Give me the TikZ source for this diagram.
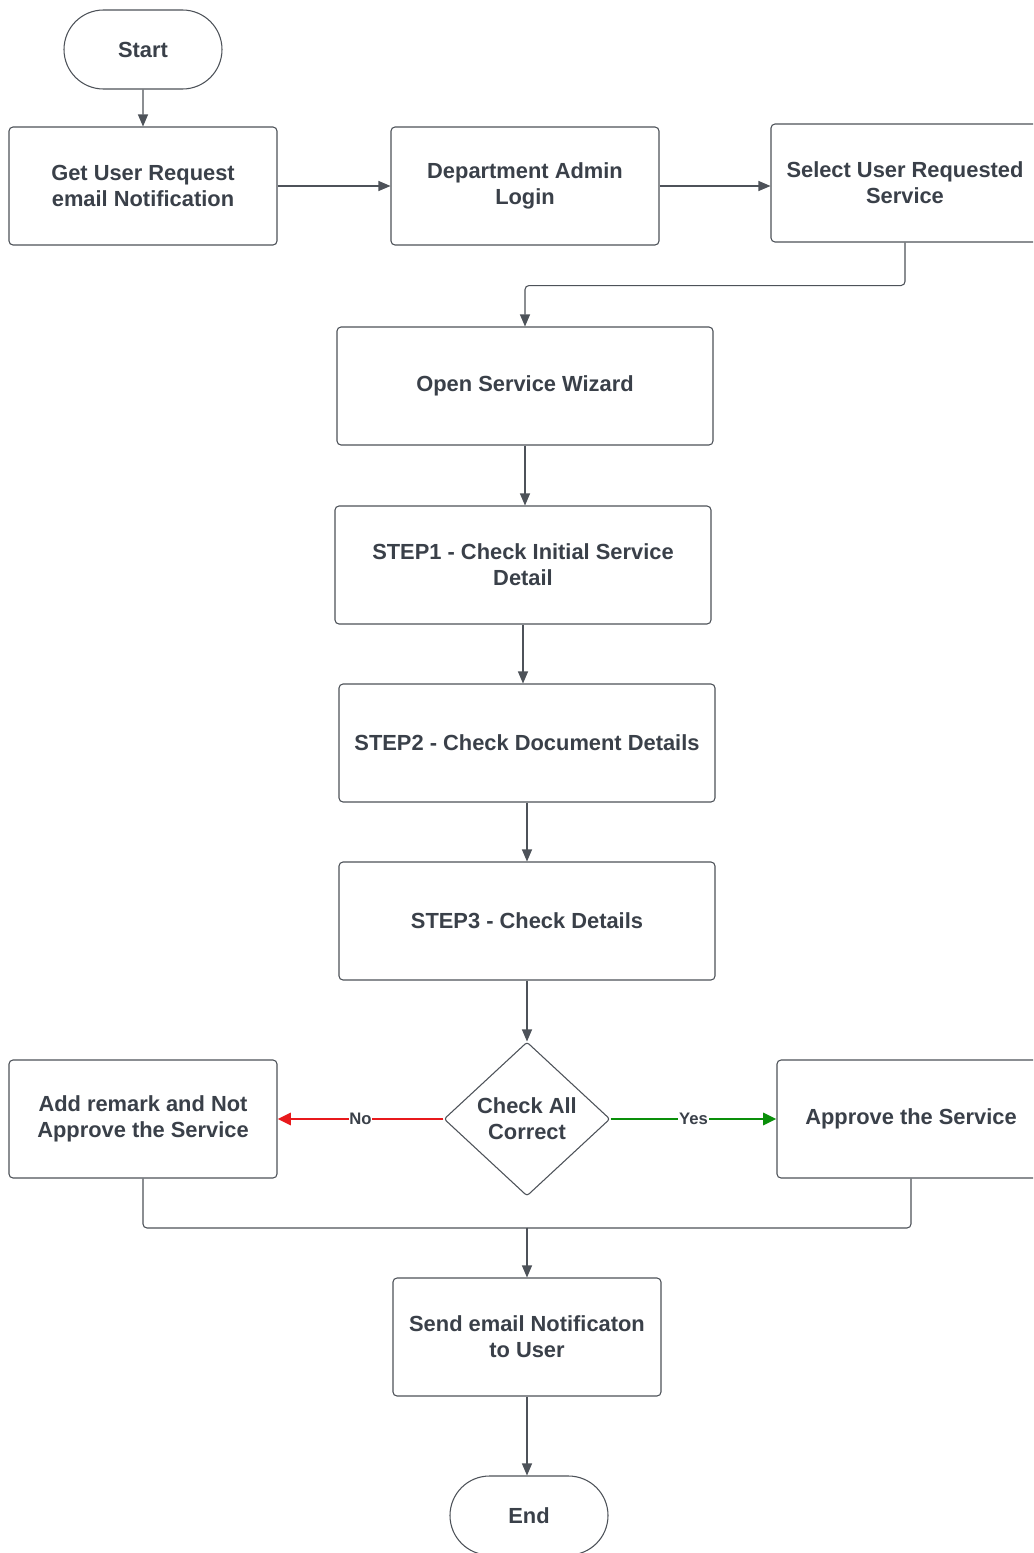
\documentclass[tikz,border=0pt]{standalone}
\usepackage{fontspec}
\setmainfont{Liberation Sans}
\usetikzlibrary{arrows.meta,shapes.geometric,shapes.misc}

\definecolor{edge}{HTML}{4D5259}
\definecolor{ink}{HTML}{3A4049}
\definecolor{nored}{HTML}{E8191C}
\definecolor{yesgreen}{HTML}{0A8F0A}

\tikzset{
  base/.style={draw=edge, line width=0.8pt, fill=white, text=ink, align=center,
    inner sep=0pt, font=\fontsize{16.4}{19.5}\selectfont\bfseries},
  procbox/.style={base, rectangle, rounded corners=3pt,
    minimum width=201pt, minimum height=88.5pt},
  widebox/.style={procbox, minimum width=282pt},
  terminal/.style={base, rounded rectangle, minimum width=118.5pt, minimum height=59.25pt},
  decision/.style={base, diamond, aspect=1.08, rounded corners=2pt,
    minimum width=124.5pt, minimum height=115.5pt},
  link/.style={draw=edge, line width=0.8pt, rounded corners=3pt},
  arr/.style={link, -{Triangle[length=9pt,width=7.5pt]}},
  branch/.style={line width=2.2pt, -{Triangle[length=10pt,width=9pt]}},
  tag/.style={fill=white, text=ink, inner sep=0.5pt, font=\fontsize{12.5}{14}\selectfont\bfseries}
}

\begin{document}
\begin{tikzpicture}[x=0.75pt,y=-0.75pt]
\clip (0,0) rectangle (1033,1553);
\fill[white] (0,0) rectangle (1033,1553);

% top row
\node[terminal] (start) at (143,49.5) {Start};
\node[procbox] (get)  at (143,186) {Get User Request\\email Notification};
\node[procbox] (dept) at (525,186) {Department Admin\\Login};
\node[procbox] (sel)  at (905,183) {Select User Requested\\Service};

% wizard steps
\node[widebox] (wiz) at (525,386) {Open Service Wizard};
\node[widebox] (s1)  at (523,565) {STEP1 - Check Initial Service\\Detail};
\node[widebox] (s2)  at (527,743) {STEP2 - Check Document Details};
\node[widebox] (s3)  at (527,921) {STEP3 - Check Details};

% decision and outcomes
\node[decision] (chk) at (527,1119) {Check All\\Correct};
\node[procbox] (rem)  at (143,1119) {Add remark and Not\\Approve the Service};
\node[procbox] (appr) at (911,1119) {Approve the Service};

% notification and end
\node[procbox] (send) at (527,1337) {Send email Notificaton\\to User};
\node[terminal] (fin) at (529,1515.5) {End};

\coordinate (join) at (527,1228);

% connectors
\draw[arr] (start) -- (get);
\draw[arr] (get) -- (dept);
\draw[arr] (dept.east) -- (dept.east -| sel.west);
\draw[arr] (sel.south) -- ++(0,43) -| (wiz.north);
\draw[arr] (wiz.south) -- (wiz.south |- s1.north);
\draw[arr] (s1.south) -- (s1.south |- s2.north);
\draw[arr] (s2.south) -- (s2.south |- s3.north);
\draw[arr] (s3.south) -- (s3.south |- chk.north);

\draw[branch, draw=nored, fill=nored] (chk.west) -- node[tag] {No} (rem.east);
\draw[branch, draw=yesgreen, fill=yesgreen] (chk.east) -- node[tag] {Yes} (appr.west);

\draw[link] (rem.south) |- (join);
\draw[link] (appr.south) |- (join);
\draw[arr] (join) -- (send.north);
\draw[arr] (send.south) -- (send.south |- fin.north);
\end{tikzpicture}
\end{document}
